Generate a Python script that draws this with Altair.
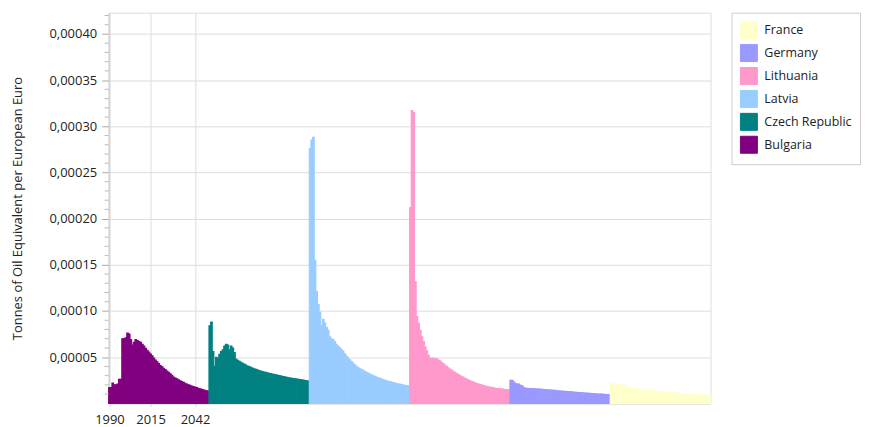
import altair as alt
import pandas as pd

countries = ["Bulgaria", "Czech Republic", "Latvia", "Lithuania", "Germany", "France"]
legend_order = ["France", "Germany", "Lithuania", "Latvia", "Czech Republic", "Bulgaria"]
colors = {"France": "#FFFFCC", "Germany": "#9999FF", "Lithuania": "#FF99CC",
          "Latvia": "#99CCFF", "Czech Republic": "#008080", "Bulgaria": "#800080"}
years = list(range(1990, 2051))
tick_years = [1990, 2015, 2042]

# values in 1e-5 tonnes of oil equivalent per euro
bulgaria = [1.7, 1.7, 2.2, 2.0, 2.0, 2.1, 2.6, 2.6, 7.0, 7.0, 7.1, 7.6, 7.5, 6.9, 6.3, 6.6,
            6.9, 6.8, 6.7, 6.6, 6.4, 6.2, 5.95, 5.75, 5.55, 5.35, 5.15, 4.9, 4.7, 4.5, 4.3,
            4.1, 3.95, 3.8, 3.65, 3.5, 3.35, 3.2, 3.05, 2.85, 2.75, 2.65, 2.55, 2.45, 2.36,
            2.27, 2.18, 2.1, 2.02, 1.95, 1.88, 1.82, 1.76, 1.7, 1.64, 1.58, 1.52, 1.47, 1.42,
            1.37, 1.32]
czech = [8.4, 8.8, 5.6, 4.0, 5.0, 4.9, 5.3, 5.6, 5.8, 6.2, 6.4, 6.3, 5.8, 6.2, 6.0, 5.5,
         4.8, 4.65, 4.55, 4.45, 4.35, 4.25, 4.15, 4.05, 3.98, 3.9, 3.82, 3.75, 3.68, 3.62,
         3.56, 3.5, 3.45, 3.4, 3.35, 3.3, 3.26, 3.22, 3.18, 3.14, 3.1, 3.06, 3.02, 2.98,
         2.94, 2.9, 2.86, 2.82, 2.78, 2.75, 2.72, 2.69, 2.66, 2.63, 2.6, 2.57, 2.54, 2.51,
         2.48, 2.45, 2.42]
latvia = [27.6, 28.5, 28.8, 15.5, 12.1, 10.7, 9.9, 8.4, 9.1, 8.7, 8.2, 7.9, 7.2, 7.0, 6.9,
          6.7, 6.4, 6.2, 6.05, 5.85, 5.65, 5.4, 5.15, 4.95, 4.75, 4.55, 4.4, 4.2, 4.05, 3.9,
          3.8, 3.7, 3.6, 3.5, 3.4, 3.3, 3.2, 3.12, 3.04, 2.96, 2.88, 2.8, 2.73, 2.66, 2.6,
          2.54, 2.48, 2.42, 2.37, 2.32, 2.27, 2.22, 2.17, 2.13, 2.09, 2.05, 2.01, 1.97,
          1.93, 1.9, 1.86]
lithuania = [21.2, 31.7, 31.5, 13.2, 9.4, 8.7, 7.9, 7.2, 6.7, 6.1, 5.7, 5.2, 4.9, 4.85, 4.9,
             4.8, 4.85, 4.7, 4.6, 4.45, 4.3, 4.15, 4.0, 3.85, 3.72, 3.6, 3.48, 3.36, 3.25,
             3.14, 3.04, 2.94, 2.84, 2.74, 2.65, 2.56, 2.48, 2.4, 2.32, 2.25, 2.18, 2.12,
             2.06, 2.0, 1.95, 1.9, 1.85, 1.8, 1.76, 1.73, 1.7, 1.67, 1.64, 1.61, 1.58, 1.56,
             1.54, 1.52, 1.5, 1.48, 1.46]
germany = [2.5, 2.5, 2.3, 2.15, 2.1, 2.1, 1.96, 1.9, 1.7, 1.62, 1.62, 1.6, 1.6, 1.6, 1.58,
           1.58, 1.56, 1.56, 1.54, 1.52, 1.5, 1.49, 1.47, 1.46, 1.44, 1.43, 1.41, 1.4, 1.38,
           1.36, 1.34, 1.33, 1.31, 1.3, 1.28, 1.27, 1.25, 1.24, 1.22, 1.2, 1.19, 1.18, 1.16,
           1.15, 1.14, 1.12, 1.11, 1.1, 1.08, 1.07, 1.06, 1.05, 1.04, 1.02, 1.01, 1.0, 0.99,
           0.98, 0.96, 0.95, 0.94]
france = [2.05, 2.12, 2.14, 2.14, 2.12, 2.0, 1.98, 1.97, 1.96, 1.95, 1.93, 1.62, 1.6, 1.58,
          1.57, 1.55, 1.54, 1.52, 1.5, 1.49, 1.47, 1.45, 1.43, 1.42, 1.4, 1.38, 1.36, 1.34,
          1.32, 1.3, 1.28, 1.26, 1.24, 1.22, 1.2, 1.18, 1.16, 1.15, 1.13, 1.11, 1.09, 1.08,
          1.06, 1.05, 1.03, 1.02, 1.0, 0.99, 0.98, 0.96, 0.95, 0.94, 0.93, 0.92, 0.91, 0.9,
          0.89, 0.88, 0.87, 0.86, 0.85]

series = {"Bulgaria": bulgaria, "Czech Republic": czech, "Latvia": latvia,
          "Lithuania": lithuania, "Germany": germany, "France": france}

rows = []
for k, c in enumerate(countries):
    for i, (yr, v) in enumerate(zip(years, series[c])):
        pos = k * len(years) + i
        rows.append({"country": c, "year": yr, "pos": pos, "pos2": pos + 1, "value": v * 1e-5})
df = pd.DataFrame(rows)
n_total = len(countries) * len(years)

major = [round(0.00005 * i, 5) for i in range(1, 9)]
minor = pd.DataFrame({"value": [round(0.00001 * i, 5) for i in range(1, 43) if i % 5 != 0]})

FONT = "Open Sans"
ydomain = [0, 0.000423]

yaxis = alt.Axis(values=major, labelExpr="replace(format(datum.value, '.5f'), '.', ',')",
                 title="Tonnes of Oil Equivalent per European Euro", titleFontWeight="normal",
                 titleFontSize=13, titlePadding=24, titleColor="#222", labelColor="#222",
                 labelFontSize=13, tickSize=7, tickColor="#aaa", domainColor="#ccc",
                 gridColor="#ddd", labelPadding=5)

cscale = alt.Scale(domain=legend_order, range=[colors[c] for c in legend_order])

bars = alt.Chart(df).mark_bar(strokeWidth=1.1).encode(
    x=alt.X("pos:Q", scale=alt.Scale(domain=[0, n_total], nice=False, zero=False),
            axis=alt.Axis(values=[t - years[0] + 0.5 for t in tick_years],
                          labelExpr=f"format({years[0]} + floor(datum.value), 'd')",
                          title=None, labelFontSize=13, labelColor="#222", tickSize=3,
                          tickColor="#ccc", domainColor="#ccc", gridColor="#ddd",
                          labelPadding=7, labelFlush=False, labelOverlap=False)),
    x2="pos2:Q",
    y=alt.Y("value:Q", scale=alt.Scale(domain=ydomain, nice=False), axis=yaxis),
    y2=alt.datum(0),
    color=alt.Color("country:N", sort=legend_order, scale=cscale,
                    legend=alt.Legend(title=None, orient="none", legendX=625, legendY=0)),
    stroke=alt.Color("country:N", sort=legend_order, scale=cscale, legend=None),
)

ticks = alt.Chart(minor).mark_rule(color="#bbb").encode(
    y=alt.Y("value:Q", scale=alt.Scale(domain=ydomain, nice=False), axis=yaxis),
    x=alt.value(-4), x2=alt.value(0),
)

chart = alt.layer(bars, ticks).properties(
    width=604, height=392, padding={"left": 4, "top": 3, "right": 0, "bottom": 0}
).configure(font=FONT).configure_view(stroke="#ddd").configure_legend(
    strokeColor="#ccc", padding=8, symbolType="square", symbolSize=290,
    symbolStrokeColor="#aaa", symbolStrokeWidth=1, labelFontSize=12.5, labelColor="#222",
    rowPadding=0, labelOffset=6, labelFont=FONT
)

chart.save("out.html", embed_options={"renderer": "svg", "actions": False})
